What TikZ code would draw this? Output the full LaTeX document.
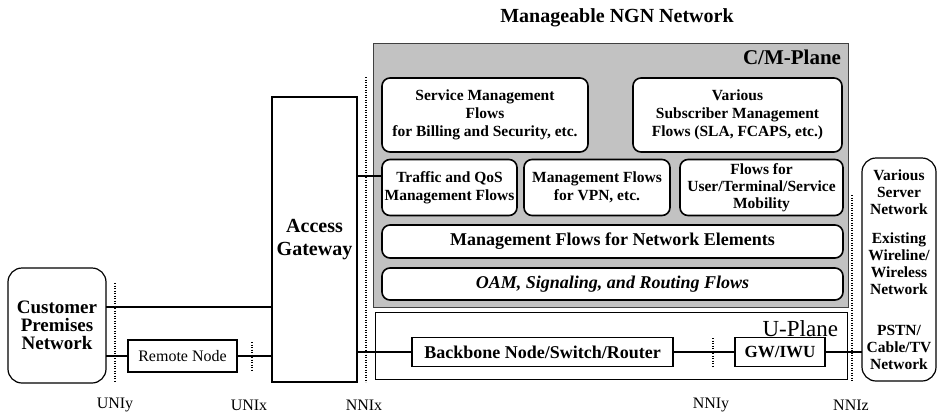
\documentclass[tikz,border=0pt]{standalone}
\usepackage{fontspec}
\setmainfont{Liberation Serif}
\begin{document}
\begin{tikzpicture}[x=1pt,y=-1pt,
  every node/.style={inner sep=0pt, outer sep=0pt},
  flowbox/.style={draw, line width=1.6pt, rounded corners=8pt, fill=white, align=center,
    font=\bfseries\fontsize{15.5}{18}\selectfont},
  barbox/.style={flowbox, font=\bfseries\fontsize{18}{20}\selectfont},
  sqbox/.style={draw, line width=1.6pt, fill=white, align=center},
  netbox/.style={draw, line width=1.2pt, rounded corners=14pt},
  nettext/.style={align=center, font=\bfseries\fontsize{15.5}{17}\selectfont},
  link/.style={line width=1.1pt},
  iface/.style={line width=2pt, dash pattern=on 1.2pt off 1.3pt},
  ifacelabel/.style={font=\fontsize{16}{18}\selectfont},
]
\useasboundingbox (0,0) rectangle (940,416);

% title
\node[font=\bfseries\fontsize{20}{24}\selectfont] (title) at (617,18) {Manageable NGN Network};

% control / management plane
\fill[black!24] (373,43) rectangle (848,307);
\draw[line width=0.8pt, black!75] (373,43) rectangle (848,307);
\node[anchor=east, font=\bfseries\fontsize{21}{24}\selectfont] (cmlabel) at (841,57) {C/M-Plane};

\node[flowbox, minimum width=206pt, minimum height=74pt] (svc) at (485,115)
  {Service Management\\Flows\\for Billing and Security, etc.};
\node[flowbox, minimum width=209pt, minimum height=74pt] (subs) at (737.5,115)
  {Various\\Subscriber Management\\Flows (SLA, FCAPS, etc.)};

\node[flowbox, minimum width=135pt, minimum height=56pt] (traffic) at (449.5,187.5)
  {Traffic and QoS\\Management Flows};
\node[flowbox, minimum width=146pt, minimum height=56pt] (vpn) at (597,187.5)
  {Management Flows\\for VPN, etc.};
\node[flowbox, minimum width=163pt, minimum height=56pt, font=\bfseries\fontsize{15.5}{17}\selectfont] (mob) at (761.5,187.5)
  {Flows for\\User/Terminal/Service\\Mobility};

\node[barbox, minimum width=461pt, minimum height=33pt] (ne) at (612.5,241.5)
  {Management Flows for Network Elements};
\node[barbox, minimum width=461pt, minimum height=32pt, font=\bfseries\itshape\fontsize{18}{20}\selectfont] (oam) at (612.5,284)
  {OAM, Signaling, and Routing Flows};

% user plane
\draw[line width=1pt] (375,312) rectangle (847,379);
\node[anchor=east, font=\fontsize{23}{24}\selectfont] (uplabel) at (838,329) {U-Plane};
\node[sqbox, minimum width=261pt, minimum height=29pt, font=\bfseries\fontsize{18}{20}\selectfont] (bb) at (542.5,352)
  {Backbone Node/Switch/Router};
\node[sqbox, minimum width=90pt, minimum height=29pt, font=\bfseries\fontsize{17}{20}\selectfont] (gw) at (780,352)
  {GW/IWU};

% access side
\node[sqbox, line width=1.3pt, minimum width=85pt, minimum height=285pt,
  font=\bfseries\fontsize{20}{23}\selectfont] (ag) at (314.5,239.5) {Access\\Gateway};
\node[netbox, minimum width=98pt, minimum height=115pt, align=center,
  font=\bfseries\fontsize{19}{18}\selectfont] (cpn) at (57,325.5) {Customer\\Premises\\Network};
\node[sqbox, line width=1.3pt, minimum width=109pt, minimum height=32pt,
  font=\fontsize{16}{18}\selectfont] (rn) at (182.5,356) {Remote Node};

% external networks
\node[netbox, minimum width=74pt, minimum height=223pt] (srv) at (899,269.5) {};
\node[nettext] (srvA) at (899,192) {Various\\Server\\Network};
\node[nettext] (srvB) at (899,263.5) {Existing\\Wireline/\\Wireless\\Network};
\node[nettext] (srvC) at (899,347) {PSTN/\\Cable/TV\\Network};

% connections
\coordinate (upper) at (0,307);
\coordinate (mgmt) at (0,176);
\draw[link] (cpn.east |- upper) -- (ag.west |- upper);
\draw[link] (cpn.east |- rn.west) -- (rn.west);
\draw[link] (rn.east) -- (ag.west |- rn.east);
\draw[link] (ag.east |- mgmt) -- (traffic.west |- mgmt);
\draw[link] (ag.east |- bb.west) -- (bb.west);
\draw[link] (bb.east) -- (gw.west);
\draw[link] (gw.east) -- (srv.west |- gw.east);

% reference points
\draw[iface] (115,283) -- (115,382);
\draw[iface] (252,342) -- (252,371);
\draw[iface] (366,77) -- (366,382);
\draw[iface] (713,338) -- (713,366);
\draw[iface] (852,195) -- (852,382);

\node[ifacelabel] (uniy) at (115,405) {UNIy};
\node[ifacelabel] (unix) at (249,405) {UNIx};
\node[ifacelabel] (nnix) at (364,405) {NNIx};
\node[ifacelabel] (nniy) at (711,405) {NNIy};
\node[ifacelabel] (nniz) at (851,405) {NNIz};
\end{tikzpicture}
\end{document}
